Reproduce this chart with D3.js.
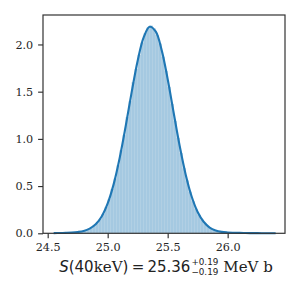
<!DOCTYPE html>
<html>
<head>
<meta charset="utf-8">
<script src="https://cdn.jsdelivr.net/npm/d3@7"></script>
<style>
  body { margin: 0; background: #fff; }
  svg { display: block; }
</style>
</head>
<body>
<div id="chart"></div>
<script>
// histogram: bins of 0.025 starting at 24.55 (density)
var binStart = 24.55;
var binStep = 0.025;
var histHeights = [0.002,0.002,0.003,0.004,0.005,0.007,0.009,0.012,0.016,0.022,
  0.030,0.040,0.056,0.080,0.108,0.15,0.205,0.28,0.36,0.47,
  0.58,0.72,0.88,1.04,1.23,1.40,1.60,1.74,1.89,2.02,
  2.12,2.18,2.20,2.17,2.10,2.01,1.87,1.72,1.55,1.37,
  1.19,1.01,0.85,0.69,0.56,0.44,0.34,0.26,0.195,0.143,
  0.103,0.073,0.05,0.035,0.025,0.018,0.013,0.011,0.009,0.008,
  0.007,0.006,0.005,0.004,0.004,0.003,0.003,0.002,0.002,0.002,
  0.001,0.001,0.001,0.001];

// kde curve
var kdeX = [24.55,24.60,24.65,24.70,24.75,24.80,24.85,24.90,24.95,25.00,
  25.05,25.10,25.15,25.20,25.25,25.30,25.35,25.40,25.45,25.50,
  25.55,25.60,25.65,25.70,25.75,25.80,25.85,25.90,25.95,26.00,
  26.05,26.10,26.15,26.20,26.25,26.30,26.35,26.40];
var kdeY = [0.002,0.003,0.005,0.008,0.014,0.025,0.05,0.095,0.178,0.316,
  0.521,0.798,1.134,1.495,1.828,2.075,2.187,2.138,1.94,1.634,
  1.277,0.927,0.624,0.390,0.226,0.122,0.061,0.030,0.015,0.009,
  0.006,0.004,0.003,0.002,0.002,0.001,0.001,0.001];

var xTicks = [24.5, 25.0, 25.5, 26.0];
var yTicks = [0.0, 0.5, 1.0, 1.5, 2.0];

var width = 300, height = 300;
var margin = {top: 15, right: 15, bottom: 66.7, left: 43};
var plotW = width - margin.left - margin.right,
  plotH = height - margin.top - margin.bottom;

var svg = d3.select("#chart").append("svg")
  .attr("width", width)
  .attr("height", height);

var x = d3.scaleLinear().domain([24.461, 26.478]).range([margin.left, margin.left + plotW]);
var y = d3.scaleLinear().domain([0, 2.312]).range([margin.top + plotH, margin.top]);

var bins = histHeights.map(function(h, i) {
  return {x0: binStart + i*binStep, x1: binStart + (i+1)*binStep, h: h};
});

svg.append("g").selectAll("rect")
  .data(bins)
  .enter().append("rect")
  .attr("x", function(d) { return x(d.x0); })
  .attr("width", function(d) { return x(d.x1) - x(d.x0); })
  .attr("y", function(d) { return y(d.h); })
  .attr("height", function(d) { return y(0) - y(d.h); })
  .attr("fill", "#1f77b4")
  .attr("fill-opacity", 0.4)
  .attr("stroke", "#ffffff")
  .attr("stroke-opacity", 0.15)
  .attr("stroke-width", 0.3);

var line = d3.line()
  .x(function(d) { return x(d[0]); })
  .y(function(d) { return y(d[1]); })
  .curve(d3.curveCatmullRom);

svg.append("path")
  .datum(kdeX.map(function(v, i) { return [v, kdeY[i]]; }))
  .attr("d", line)
  .attr("fill", "none")
  .attr("stroke", "#1f77b4")
  .attr("stroke-width", 2.1);

// axes
var xAxis = d3.axisBottom(x).tickValues(xTicks).tickFormat(d3.format(".1f"))
  .tickSizeInner(4.9).tickSizeOuter(0).tickPadding(4.9);
var yAxis = d3.axisLeft(y).tickValues(yTicks).tickFormat(d3.format(".1f"))
  .tickSizeInner(4.9).tickSizeOuter(0).tickPadding(4.9);

var gx = svg.append("g")
  .attr("transform", "translate(0," + (margin.top + plotH) + ")")
  .call(xAxis);
var gy = svg.append("g")
  .attr("transform", "translate(" + margin.left + ",0)")
  .call(yAxis);

[gx, gy].forEach(function(g) {
  g.select(".domain").remove();
  g.selectAll(".tick line").attr("stroke", "#262626").attr("stroke-width", 1.1);
  g.selectAll(".tick text")
    .attr("fill", "#262626")
    .style("font-family", "'DejaVu Serif'")
    .style("font-size", "11.2px");
});

// frame
svg.append("rect")
  .attr("x", margin.left)
  .attr("y", margin.top)
  .attr("width", plotW)
  .attr("height", plotH)
  .attr("fill", "none")
  .attr("stroke", "#333")
  .attr("stroke-width", 1.2);

// x label
var sans = "'DejaVu Sans'", serif = "'DejaVu Serif'";
var label = svg.append("text")
  .attr("y", 272.3)
  .attr("fill", "#222")
  .style("font-size", "15px");

label.append("tspan").style("font-family", sans).style("font-style", "italic").text("S");
label.append("tspan").style("font-family", sans).text("(40");
label.append("tspan").style("font-family", serif).text("keV");
label.append("tspan").style("font-family", sans).text(")");
label.append("tspan").style("font-family", sans).attr("dx", 3.5).text("=");
label.append("tspan").style("font-family", sans).attr("dx", 3).text("25.36");
var sup = label.append("tspan").style("font-family", sans).style("font-size", "8.8px")
  .attr("dx", 1).attr("dy", -7).text("+0.19");
var supW = sup.node().getComputedTextLength();
label.append("tspan").style("font-family", sans).style("font-size", "8.8px")
  .attr("dx", -supW).attr("dy", 10).text("\u22120.19");
label.append("tspan").style("font-family", serif).attr("dx", 5).attr("dy", -3).text("MeV b");

var bb = label.node().getBBox();
label.attr("x", 166 - bb.width/2);
</script>
</body>
</html>
